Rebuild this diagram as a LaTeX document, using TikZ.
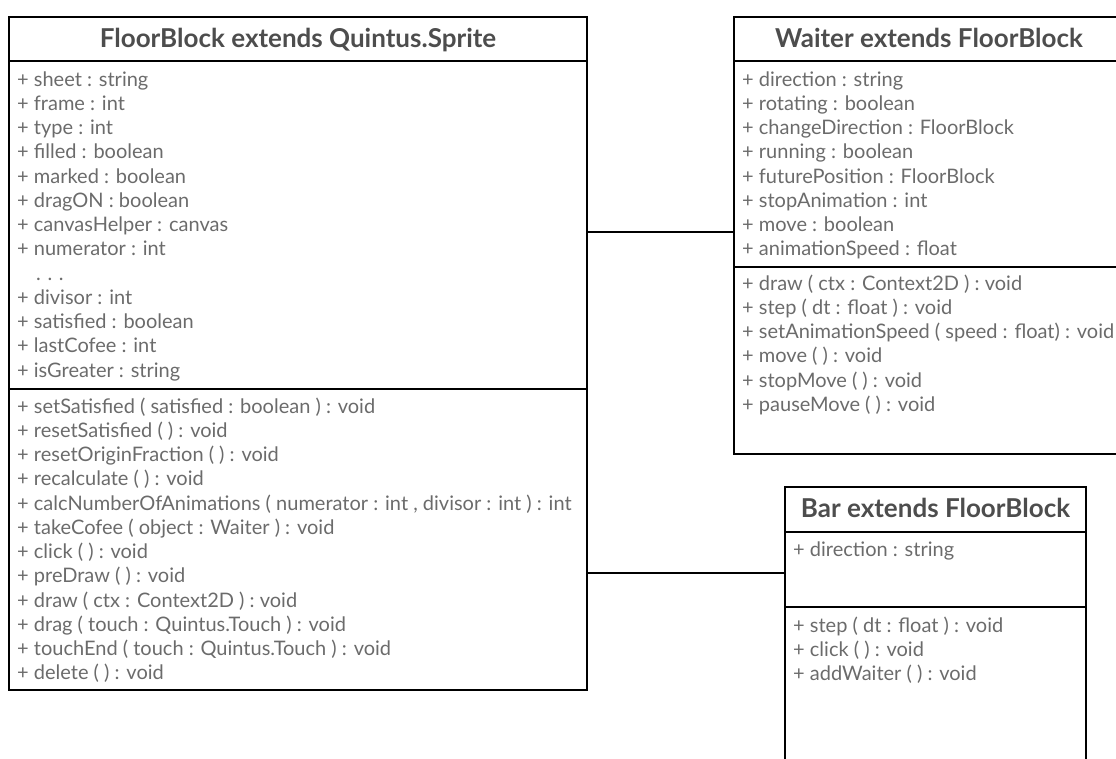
\documentclass[tikz,border=0pt]{standalone}
\usepackage{fontspec}
\setmainfont{Lato}
\definecolor{headgray}{HTML}{4D4D4D}
\definecolor{itemgray}{HTML}{6B6B6B}

\begin{document}
\begin{tikzpicture}[x=1pt,y=-1pt,
	box/.style={draw,line width=2pt,inner sep=0pt,outer sep=0pt,anchor=north west},
	head/.style={anchor=base,inner sep=0pt,text=headgray,font=\fontsize{26}{30}\selectfont\bfseries},
	item/.style={anchor=base west,inner sep=0pt,text=itemgray,font=\fontsize{20}{24}\selectfont},
	link/.style={draw,line width=2pt}]
	\useasboundingbox (0,0) rectangle (1116,758);
	\clip (0,0) rectangle (1116,758);

	\node[box,minimum width=578pt,minimum height=44pt]  (fbhead) at (9,17)  {};
	\node[box,minimum width=578pt,minimum height=328pt] (fbattr) at (9,61)  {};
	\node[box,minimum width=578pt,minimum height=301pt] (fbops)  at (9,389) {};
	\node[head] (fbtitle) at (298,47) {FloorBlock extends Quintus.Sprite};

	\node[item] (fa1)  at (17,86)     {+ sheet : string};
	\node[item] (fa2)  at (17,110.25) {+ frame : int};
	\node[item] (fa3)  at (17,134.5)  {+ type : int};
	\node[item] (fa4)  at (17,158.75) {+ filled : boolean};
	\node[item] (fa5)  at (17,183)    {+ marked : boolean};
	\node[item] (fa6)  at (17,207.25) {+ dragON : boolean};
	\node[item] (fa7)  at (17,231.5)  {+ canvasHelper : canvas};
	\node[item] (fa8)  at (17,255.75) {+ numerator : int};
	\node[item] (fa9)  at (36,280)    {.\,\,.\,\,.};
	\node[item] (fa10) at (17,304.25) {+ divisor : int};
	\node[item] (fa11) at (17,328.5)  {+ satisfied : boolean};
	\node[item] (fa12) at (17,352.75) {+ lastCofee : int};
	\node[item] (fa13) at (17,377)    {+ isGreater : string};

	\node[item] (fm1)  at (17,413)    {+ setSatisfied ( satisfied : boolean ) : void};
	\node[item] (fm2)  at (17,437.25) {+ resetSatisfied ( ) : void};
	\node[item] (fm3)  at (17,461.5)  {+ resetOriginFraction ( ) : void};
	\node[item] (fm4)  at (17,485.75) {+ recalculate ( ) : void};
	\node[item] (fm5)  at (17,510)    {+ calcNumberOfAnimations ( numerator : int , divisor : int ) : int};
	\node[item] (fm6)  at (17,534.25) {+ takeCofee ( object : Waiter ) : void};
	\node[item] (fm7)  at (17,558.5)  {+ click ( ) : void};
	\node[item] (fm8)  at (17,582.75) {+ preDraw ( ) : void};
	\node[item] (fm9)  at (17,607)    {+ draw ( ctx : Context2D ) : void};
	\node[item] (fm10) at (17,631.25) {+ drag ( touch : Quintus.Touch ) : void};
	\node[item] (fm11) at (17,655.5)  {+ touchEnd ( touch : Quintus.Touch ) : void};
	\node[item] (fm12) at (17,679.75) {+ delete ( ) : void};

	\node[box,minimum width=390pt,minimum height=44pt]  (whead) at (734,17)  {};
	\node[box,minimum width=390pt,minimum height=206pt] (wattr) at (734,61)  {};
	\node[box,minimum width=390pt,minimum height=187pt] (wops)  at (734,267) {};
	\node[head] (wtitle) at (929,47) {Waiter extends FloorBlock};

	\node[item] (wa1) at (742,86)     {+ direction : string};
	\node[item] (wa2) at (742,110.25) {+ rotating : boolean};
	\node[item] (wa3) at (742,134.5)  {+ changeDirection : FloorBlock};
	\node[item] (wa4) at (742,158.75) {+ running : boolean};
	\node[item] (wa5) at (742,183)    {+ futurePosition : FloorBlock};
	\node[item] (wa6) at (742,207.25) {+ stopAnimation : int};
	\node[item] (wa7) at (742,231.5)  {+ move : boolean};
	\node[item] (wa8) at (742,255.75) {+ animationSpeed : float};

	\node[item] (wm1) at (742,290)    {+ draw ( ctx : Context2D ) : void};
	\node[item] (wm2) at (742,314.25) {+ step ( dt : float ) : void};
	\node[item] (wm3) at (742,338.5)  {+ setAnimationSpeed ( speed : float) : void};
	\node[item] (wm4) at (742,362.75) {+ move ( ) : void};
	\node[item] (wm5) at (742,387)    {+ stopMove ( ) : void};
	\node[item] (wm6) at (742,411.25) {+ pauseMove ( ) : void};

	\node[box,minimum width=301pt,minimum height=45pt]  (bhead) at (785,487) {};
	\node[box,minimum width=301pt,minimum height=75pt]  (battr) at (785,532) {};
	\node[box,minimum width=301pt,minimum height=200pt] (bops)  at (785,607) {};
	\node[head] (btitle) at (935.5,517) {Bar extends FloorBlock};

	\node[item] (ba1) at (793,556)    {+ direction : string};

	\node[item] (bm1) at (793,632)    {+ step ( dt : float ) : void};
	\node[item] (bm2) at (793,656.25) {+ click ( ) : void};
	\node[item] (bm3) at (793,680.5)  {+ addWaiter ( ) : void};

	\coordinate (towaiter) at (734,232);
	\coordinate (tobar)    at (785,573);
	\draw[link] (towaiter -| fbattr.east) -- (towaiter);
	\draw[link] (tobar -| fbops.east) -- (tobar);
\end{tikzpicture}
\end{document}
